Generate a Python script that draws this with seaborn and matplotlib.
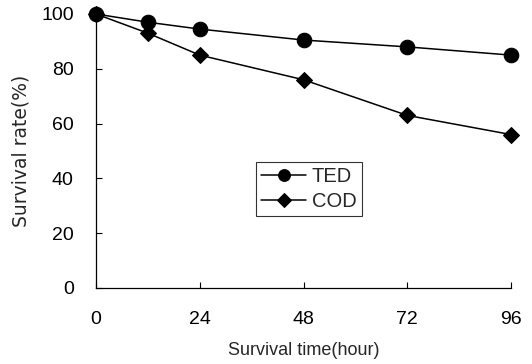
import matplotlib
matplotlib.use("Agg")
import matplotlib.pyplot as plt
import seaborn as sns
import pandas as pd

hours = [0, 12, 24, 48, 72, 96]
ted = [100, 97, 94.5, 90.5, 88, 85]
cod = [100, 93, 85, 76, 63, 56]
xticks = [0, 24, 48, 72, 96]
yticks = [0, 20, 40, 60, 80, 100]

sns.set_theme(style="ticks")
plt.rcParams['font.family'] = ['Liberation Sans', 'DejaVu Sans']

df = pd.DataFrame({
    "hour": hours * 2,
    "rate": ted + cod,
    "group": ["TED"] * len(hours) + ["COD"] * len(hours),
})

fig = plt.figure(figsize=(5.32, 3.64), dpi=100)
ax = fig.add_axes([96/532, 1 - 288/364, (511-96)/532, (288-14)/364])
sns.lineplot(data=df, x="hour", y="rate", hue="group", style="group",
             markers={"TED": "o", "COD": "D"}, dashes=False,
             palette={"TED": "black", "COD": "black"},
             markersize=9, linewidth=1.1, ax=ax, clip_on=False)
for line in ax.lines:
    if line.get_marker() == "D":
        line.set_markersize(8.5)
        line.set_markeredgecolor("black")
        line.set_zorder(2)
    elif line.get_marker() == "o":
        line.set_markersize(10.5)
        line.set_markeredgecolor("black")
        line.set_zorder(3)
ax.set_xlim(0, 96)
ax.set_ylim(0, 100)
ax.set_xticks(xticks)
ax.set_yticks(yticks)
ax.tick_params(direction="in", length=4, width=0.8, labelsize=14, colors="black")
ax.tick_params(axis="x", pad=16.5)
ax.tick_params(axis="y", pad=16)
for s in ["top", "right"]:
    ax.spines[s].set_visible(False)
for s in ["left", "bottom"]:
    ax.spines[s].set_color("black")
    ax.spines[s].set_linewidth(0.9)
ax.set_xlabel("Survival time(hour)", fontsize=13, labelpad=10)
ax.set_ylabel("Survival rate(%)", fontsize=13.5, labelpad=8,
              family=["DejaVu Sans"])
leg = ax.legend(title=None, loc="center", bbox_to_anchor=((309-96)/415, (288-189)/274),
                fontsize=14.5, frameon=True, fancybox=False, edgecolor="black",
                handlelength=2.2, handletextpad=0.3, borderpad=0.25, labelspacing=0.3,
                borderaxespad=0)
leg.get_frame().set_linewidth(0.8)
for h in leg.legend_handles:
    h.set_markeredgecolor("black")
    if h.get_marker() == "o":
        h.set_markersize(8.5)
    elif h.get_marker() == "D":
        h.set_markersize(7)
fig.savefig("out.png", dpi=100)
